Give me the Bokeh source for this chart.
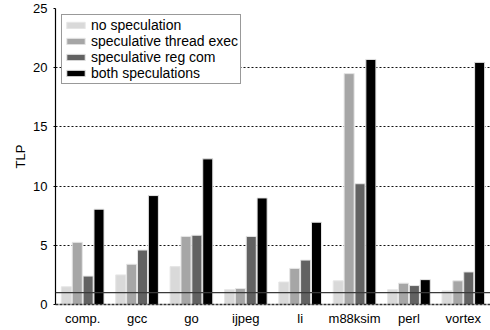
from bokeh.plotting import figure
from bokeh.models import FactorRange, Span, Legend, LegendItem, ColumnDataSource
from bokeh.transform import dodge
from bokeh.embed import file_html
from bokeh.resources import INLINE

benchmarks = ["comp.", "gcc", "go", "ijpeg", "li", "m88ksim", "perl", "vortex"]
series_names = ["no speculation", "speculative thread exec", "speculative reg com", "both speculations"]
no_spec = [1.5, 2.5, 3.2, 1.25, 1.9, 2.0, 1.25, 1.15]
thread_exec = [5.25, 3.4, 5.75, 1.35, 3.05, 19.5, 1.8, 2.0]
reg_com = [2.4, 4.6, 5.85, 5.75, 3.75, 10.2, 1.6, 2.75]
both = [8.05, 9.2, 12.3, 9.0, 6.95, 20.7, 2.1, 20.45]
colors = ["#d9d9d9", "#a6a6a6", "#626262", "#000000"]
y_ticks = [0, 5, 10, 15, 20, 25]
baseline = 1

src = ColumnDataSource(dict(x=benchmarks, s0=no_spec, s1=thread_exec, s2=reg_com, s3=both))

p = figure(x_range=FactorRange(*benchmarks, range_padding=0), y_range=(0, 25),
           width=490, height=330, output_backend="svg", toolbar_location=None,
           min_border_left=55, min_border_right=0, min_border_top=8, min_border_bottom=26)
p.outline_line_color = None

offsets = [-0.3, -0.1, 0.1, 0.3]
renderers = []
for i, (col, c) in enumerate(zip(["s0", "s1", "s2", "s3"], colors)):
    r = p.vbar(x=dodge("x", offsets[i], range=p.x_range), top=col, width=0.185, bottom=0,
               source=src, fill_color=c, line_color="#e6e6e6", line_width=1)
    renderers.append(r)

p.add_layout(Span(location=baseline, dimension="width", line_color="#3a3a3a", line_width=1.2))

legend = Legend(items=[LegendItem(label=n, renderers=[r]) for n, r in zip(series_names, renderers)],
                location="top_left", margin=6, padding=2, spacing=0,
                glyph_width=23, glyph_height=8, label_height=15, label_standoff=4,
                label_text_font="Liberation Sans", label_text_font_size="14px",
                label_text_color="black",
                border_line_color="#333333", border_line_width=1.2,
                background_fill_color="white", background_fill_alpha=1)
p.add_layout(legend, "center")

p.yaxis.ticker = y_ticks
p.ygrid.ticker = y_ticks
p.xgrid.grid_line_color = None
p.ygrid.grid_line_color = "#111111"
p.ygrid.grid_line_dash = "2 2"
p.ygrid.grid_line_width = 1

for ax in (p.xaxis, p.yaxis):
    ax.major_label_text_font = "Liberation Sans"
    ax.major_label_text_font_size = "13px"
    ax.major_label_text_color = "black"
    ax.minor_tick_line_color = None

p.yaxis.axis_label = "TLP"
p.yaxis.axis_label_text_font = "Liberation Sans"
p.yaxis.axis_label_text_font_size = "13px"
p.yaxis.axis_label_text_font_style = "normal"
p.yaxis.axis_label_text_color = "black"
p.yaxis.axis_label_standoff = 2
p.yaxis.axis_line_color = "black"
p.yaxis.axis_line_width = 1.2
p.yaxis.major_tick_out = 2
p.yaxis.major_tick_in = 0
p.yaxis.major_tick_line_color = "black"
p.yaxis.major_label_standoff = 6

p.xaxis.axis_line_color = "#333333"
p.xaxis.axis_line_width = 1.5
p.xaxis.axis_line_dash = "3 1"
p.xaxis.major_tick_line_color = None
p.xaxis.major_tick_out = 0
p.xaxis.major_tick_in = 0
p.xaxis.major_label_standoff = 6

open("out.html", "w").write(file_html(p, INLINE))
